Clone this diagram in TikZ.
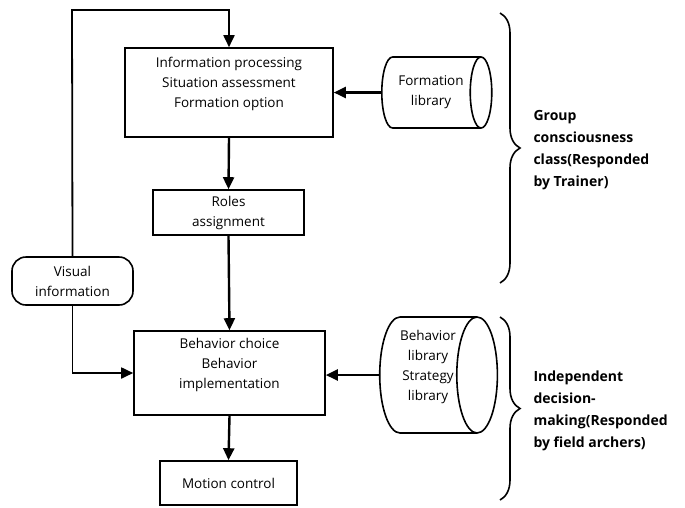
\documentclass[tikz,border=0pt]{standalone}
\usepackage{fontspec}
\setmainfont{Open Sans}
\usetikzlibrary{arrows.meta,shapes.geometric,decorations.pathreplacing}

\begin{document}
\begin{tikzpicture}[x=1pt,y=-1pt,
  box/.style={draw,line width=1.6pt,align=center,inner sep=0pt,font=\fontsize{13.5}{20}\selectfont},
  lib/.style={draw,line width=1.6pt,cylinder,align=center,inner sep=0pt,font=\fontsize{13.5}{20}\selectfont},
  arr/.style={line width=2.4pt,-{Triangle[length=12pt,width=11pt]}},
  brc/.style={line width=1.6pt,decorate,decoration={brace,amplitude=20pt}},
  note/.style={anchor=west,align=left,font=\bfseries\fontsize{14}{22}\selectfont}]
\useasboundingbox (0,0) rectangle (685,507);

\node[box,minimum width=208pt,minimum height=89pt] (info) at (229,92.5)
  {Information processing\\Situation assessment\\Formation option\\~};
\node[box,minimum width=151pt,minimum height=45pt] (roles) at (228.5,212.5)
  {Roles\\assignment};
\node[box,minimum width=191pt,minimum height=84pt] (beh) at (229.5,373)
  {Behavior choice\\Behavior\\implementation\\~};
\node[box,minimum width=137pt,minimum height=44pt] (motion) at (228.5,483)
  {Motion control};
\node[box,rounded corners=14pt,minimum width=121pt,minimum height=48pt] (vis) at (72.5,281)
  {Visual\\information};

\node[lib,aspect=0.65,minimum height=110pt,minimum width=71pt] (flib) at (431,92.5)
  {Formation\\library};
\node[lib,aspect=0.45,minimum height=99pt,minimum width=116pt] (blib) at (428,375)
  {Behavior\\library\\Strategy\\library\\~};

\coordinate (tl) at (72,10);
\draw[arr,line width=1.8pt] (vis.north) -- (tl) -| (info.north);
\draw[arr] (info.south) -- (roles.north);
\draw[arr] (roles.south) -- (beh.north);
\draw[arr] (beh.south) -- (motion.north);
\draw[arr,line width=1.8pt] (vis.south) |- (beh.west);
\draw[arr] (flib.west) -- (info.east);
\draw[arr] (blib.west) -- (blib.west -| beh.east);

\draw[brc] (500,13) -- (500,283);
\draw[brc] (500,317) -- (500,500);

\node[note] (grp) at (530,150) {Group\\consciousness\\class(Responded\\by Trainer)};
\node[note] (ind) at (530,411) {Independent\\decision-\\making(Responded\\by field archers)};
\end{tikzpicture}
\end{document}
